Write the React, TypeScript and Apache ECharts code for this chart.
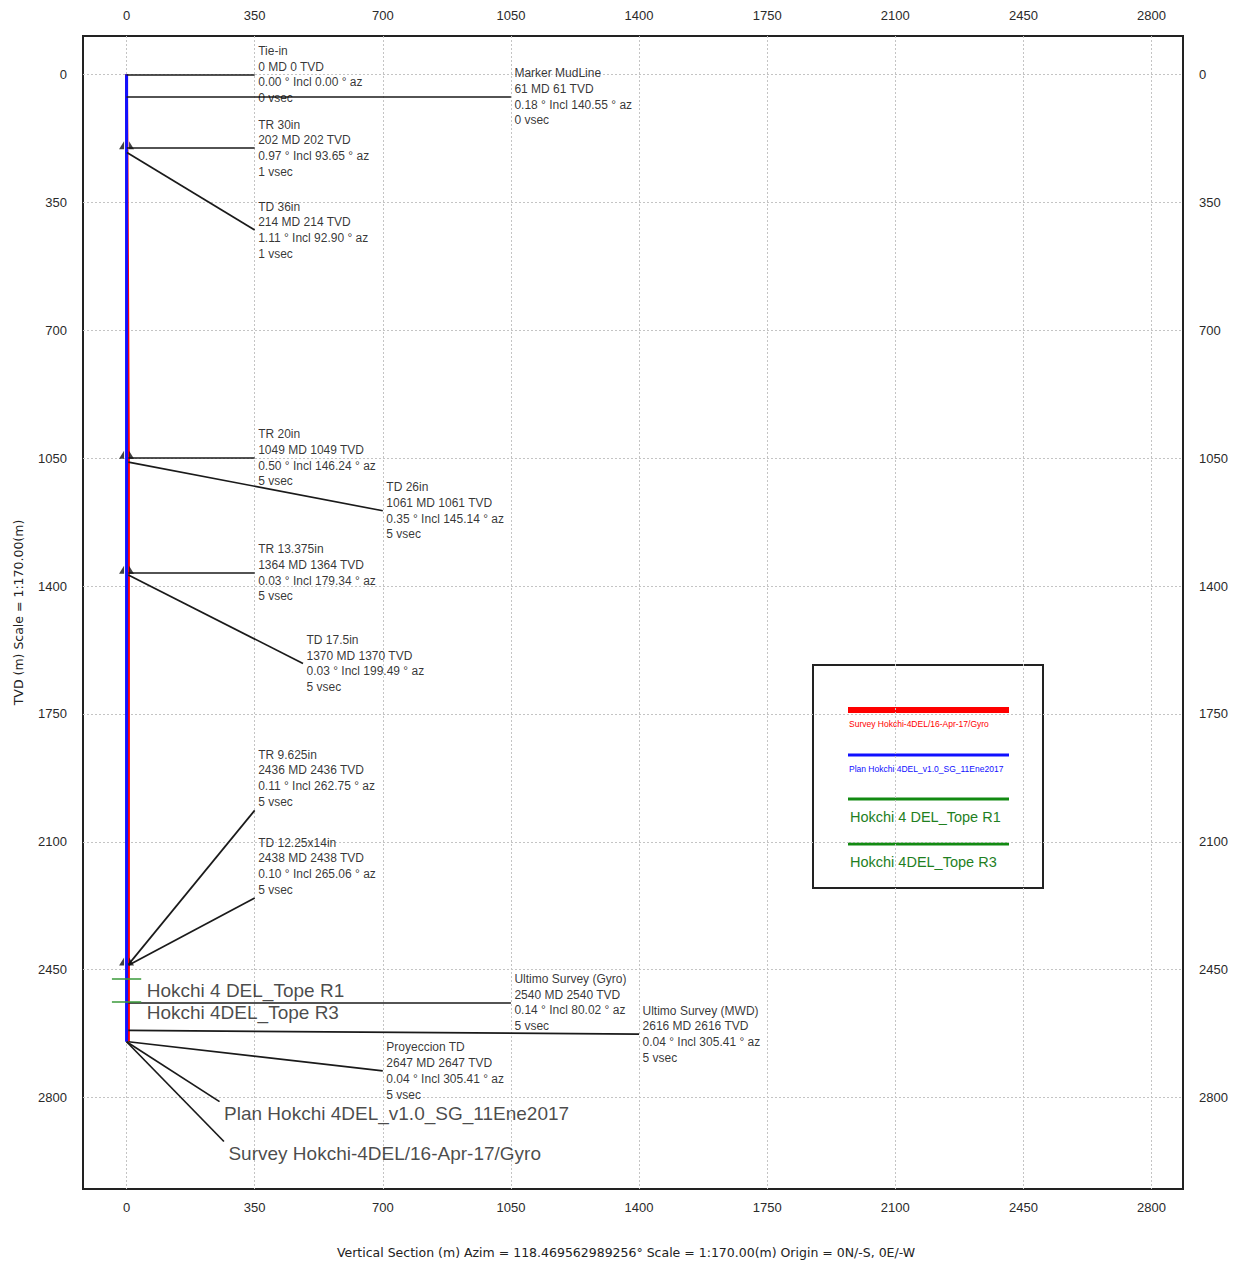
import React, { useEffect, useRef } from "react";
import * as echarts from "echarts";

// ---- axis ticks ----
const xTicks = [0, 350, 700, 1050, 1400, 1750, 2100, 2450, 2800];
const yTicks = [0, 350, 700, 1050, 1400, 1750, 2100, 2450, 2800];

// ---- trajectories (vertical section vs TVD) ----
const surveyTvd = [0, 61, 202, 214, 1049, 1061, 1364, 1370, 2436, 2438, 2540, 2616, 2647];
const surveyVsec = [0, 0, 1, 1, 5, 5, 5, 5, 5, 5, 5, 5, 5];
const planTvd = [0, 61, 202, 214, 1049, 1061, 1364, 1370, 2436, 2438, 2540, 2616, 2647];
const planVsec = [0, 0, 0, 0, 0, 0, 0, 0, 0, 0, 0, 0, 0];

// ---- annotated stations ----
const stationNames = [
  "Tie-in", "Marker MudLine", "TR 30in", "TD 36in", "TR 20in", "TD 26in",
  "TR 13.375in", "TD 17.5in", "TR 9.625in", "TD 12.25x14in",
  "Ultimo Survey (Gyro)", "Ultimo Survey (MWD)", "Proyeccion TD",
];
const stationMd = [0, 61, 202, 214, 1049, 1061, 1364, 1370, 2436, 2438, 2540, 2616, 2647];
const stationTvd = [0, 61, 202, 214, 1049, 1061, 1364, 1370, 2436, 2438, 2540, 2616, 2647];
const stationIncl = ["0.00", "0.18", "0.97", "1.11", "0.50", "0.35", "0.03", "0.03", "0.11", "0.10", "0.14", "0.04", "0.04"];
const stationAz = ["0.00", "140.55", "93.65", "92.90", "146.24", "145.14", "179.34", "199.49", "262.75", "265.06", "80.02", "305.41", "305.41"];
const stationVsec = [0, 0, 1, 1, 5, 5, 5, 5, 5, 5, 5, 5, 5];

// casing shoes
const casingTvd = [202, 1049, 1364, 2436];

// formation tops
const topNames = ["Hokchi 4 DEL_Tope R1", "Hokchi 4DEL_Tope R3"];
const topTvd = [2476, 2538];

// well names
const wellNames = ["Plan Hokchi 4DEL_v1.0_SG_11Ene2017", "Survey Hokchi-4DEL/16-Apr-17/Gyro"];
const wellEndTvd = [2647, 2647];

// ---- layout (label anchor points, in chart units) ----
const leaderEnds = [
  [350, 0], [1050, 61], [350, 202], [350, 426], [350, 1049], [700, 1194],
  [350, 1364], [482, 1612], [350, 2014], [350, 2254], [1050, 2540], [1400, 2626], [700, 2727],
];
const textAnchors = [
  [350, 0], [1050, 61], [350, 202], [350, 426], [350, 1049], [700, 1194],
  [350, 1364], [482, 1612], [350, 1926], [350, 2167], [1050, 2540], [1400, 2626], [700, 2727],
];
const wellLabelEnds = [[254, 2811], [266, 2920]];

const FONT = "'Liberation Sans', Arial, sans-serif";
const WIDE_FONT = "'DejaVu Sans', Verdana, sans-serif";

export default function App() {
  const ref = useRef<HTMLDivElement>(null);

  useEffect(() => {
    if (!ref.current) return;
    const chart = echarts.init(ref.current, undefined, { renderer: "svg" });

    const axisLabelStyle = {
      fontSize: 13, color: "#2a2a2a", fontFamily: FONT,
      formatter: (v: number) => String(v),
    };
    const splitLine = { show: true, lineStyle: { color: "#c4c4c4", type: [2, 2] as any, width: 1 } };

    const xAxisBase = {
      type: "value",
      min: -119,
      max: 2886,
      axisLine: { show: false },
      axisTick: { show: false, customValues: xTicks },
      axisLabel: { ...axisLabelStyle, customValues: xTicks },
      splitLine,
    };
    const yAxisBase = {
      type: "value",
      inverse: true,
      min: -105,
      max: 3050,
      axisLine: { show: false },
      axisTick: { show: false, customValues: yTicks },
      axisLabel: { ...axisLabelStyle, customValues: yTicks, margin: 16 },
      splitLine,
    };

    const leaderData = stationNames.map((_, i) => ({
      coords: [[stationVsec[i], stationTvd[i]], leaderEnds[i]],
    }));
    wellNames.forEach((_, i) => {
      leaderData.push({ coords: [[0, wellEndTvd[i]], wellLabelEnds[i]] });
    });

    const stationLabels = stationNames.map((n, i) => ({
      value: textAnchors[i],
      label: {
        formatter:
          `${n}\n${stationMd[i]} MD ${stationTvd[i]} TVD\n` +
          `${stationIncl[i]} ° Incl ${stationAz[i]} ° az\n${stationVsec[i]} vsec`,
      },
    }));

    const casingData: any[] = [];
    casingTvd.forEach((t) => {
      casingData.push({ value: [0, t], symbol: "path://M10,0 L10,10 L0,10 Z", symbolOffset: [-5, -3] });
      casingData.push({ value: [0, t], symbol: "path://M0,0 L0,10 L10,10 Z", symbolOffset: [5, -3] });
    });

    const option: any = {
      animation: false,
      backgroundColor: "#fff",
      grid: {
        left: 83, top: 36, right: 60, bottom: 74,
        show: true, borderColor: "#222", borderWidth: 2, backgroundColor: "transparent",
      },
      xAxis: [
        {
          ...xAxisBase, position: "bottom",
          axisLabel: { ...xAxisBase.axisLabel, margin: 12 },
          name: "Vertical Section (m) Azim = 118.469562989256° Scale = 1:170.00(m) Origin = 0N/-S, 0E/-W",
          nameLocation: "middle", nameGap: 57,
          nameTextStyle: { fontSize: 12.5, color: "#222", fontFamily: WIDE_FONT, padding: [0, 14, 0, 0] },
        },
        { ...xAxisBase, position: "top", axisLabel: { ...xAxisBase.axisLabel, margin: 14 } },
      ],
      yAxis: [
        {
          ...yAxisBase, position: "left",
          name: "TVD (m) Scale = 1:170.00(m)",
          nameLocation: "middle", nameGap: 58,
          nameTextStyle: { fontSize: 12.5, color: "#222", fontFamily: WIDE_FONT },
        },
        { ...yAxisBase, position: "right" },
      ],
      series: [
        {
          type: "line", name: wellNames[1], xAxisIndex: 0, yAxisIndex: 0,
          data: surveyVsec.map((v, i) => [v, surveyTvd[i]]),
          showSymbol: false, lineStyle: { color: "#ff0000", width: 3 }, z: 2,
        },
        {
          type: "line", name: wellNames[0], xAxisIndex: 0, yAxisIndex: 0,
          data: planVsec.map((v, i) => [v, planTvd[i]]),
          showSymbol: false, lineStyle: { color: "#1010ff", width: 3 }, z: 3,
        },
        {
          type: "lines", coordinateSystem: "cartesian2d", xAxisIndex: 0, yAxisIndex: 0,
          data: leaderData, lineStyle: { color: "#1a1a1a", width: 1.7, opacity: 1 }, z: 4,
        },
        {
          type: "lines", coordinateSystem: "cartesian2d", xAxisIndex: 0, yAxisIndex: 0,
          data: topTvd.map((t) => ({ coords: [[-40, t], [40, t]] })),
          lineStyle: { color: "#3a9a3a", width: 1.5, opacity: 1 }, z: 4,
        },
        {
          type: "scatter", xAxisIndex: 0, yAxisIndex: 0, symbolSize: 1,
          itemStyle: { color: "transparent" }, data: stationLabels, z: 5,
          label: {
            show: true, position: "right", distance: 3, fontSize: 12, lineHeight: 15.7,
            color: "#000", fontFamily: FONT,
          },
        },
        {
          type: "scatter", xAxisIndex: 0, yAxisIndex: 0, symbolSize: 1,
          itemStyle: { color: "transparent" }, z: 5,
          data: topNames.map((n, i) => ({ value: [40, topTvd[i]], label: { formatter: n } })),
          label: {
            show: true, position: "right", distance: 5, offset: [0, 11], fontSize: 19,
            color: "#1a1a1a", fontFamily: FONT,
          },
        },
        {
          type: "scatter", xAxisIndex: 0, yAxisIndex: 0, symbolSize: 1,
          itemStyle: { color: "transparent" }, z: 5,
          data: wellNames.map((n, i) => ({ value: wellLabelEnds[i], label: { formatter: n } })),
          label: {
            show: true, position: "right", distance: 4, offset: [0, 12], fontSize: 19,
            color: "#1a1a1a", fontFamily: FONT,
          },
        },
        {
          type: "scatter", xAxisIndex: 0, yAxisIndex: 0, symbolSize: [5, 8],
          itemStyle: { color: "#111" }, data: casingData, z: 6,
        },
      ],
      graphic: [
        {
          type: "group", left: 812, top: 664, z: 100,
          children: [
            { type: "rect", shape: { x: 0, y: 0, width: 230, height: 223 }, style: { fill: "#fff", stroke: "#222", lineWidth: 2 } },
            { type: "line", shape: { x1: 35, y1: 45, x2: 196, y2: 45 }, style: { stroke: "#ff0000", lineWidth: 6 } },
            { type: "text", x: 36, y: 59, style: { text: wellNames[1], fill: "#ff0000", fontSize: 8.5, fontFamily: FONT, verticalAlign: "middle" } },
            { type: "line", shape: { x1: 35, y1: 90, x2: 196, y2: 90 }, style: { stroke: "#1010ff", lineWidth: 3 } },
            { type: "text", x: 36, y: 104, style: { text: wellNames[0], fill: "#1010ff", fontSize: 8.5, fontFamily: FONT, verticalAlign: "middle" } },
            { type: "line", shape: { x1: 35, y1: 134, x2: 196, y2: 134 }, style: { stroke: "#128a12", lineWidth: 3 } },
            { type: "text", x: 37, y: 152, style: { text: topNames[0], fill: "#1f7f1f", fontSize: 14.5, fontFamily: FONT, verticalAlign: "middle" } },
            { type: "line", shape: { x1: 35, y1: 179, x2: 196, y2: 179 }, style: { stroke: "#128a12", lineWidth: 3 } },
            { type: "text", x: 37, y: 197, style: { text: topNames[1], fill: "#1f7f1f", fontSize: 14.5, fontFamily: FONT, verticalAlign: "middle" } },
          ],
        },
      ],
    };

    chart.setOption(option);
    return () => chart.dispose();
  }, []);

  return (
    <div
      ref={ref}
      style={{ position: "absolute", left: 0, top: 0, width: 1243, height: 1264, background: "#fff" }}
    />
  );
}
